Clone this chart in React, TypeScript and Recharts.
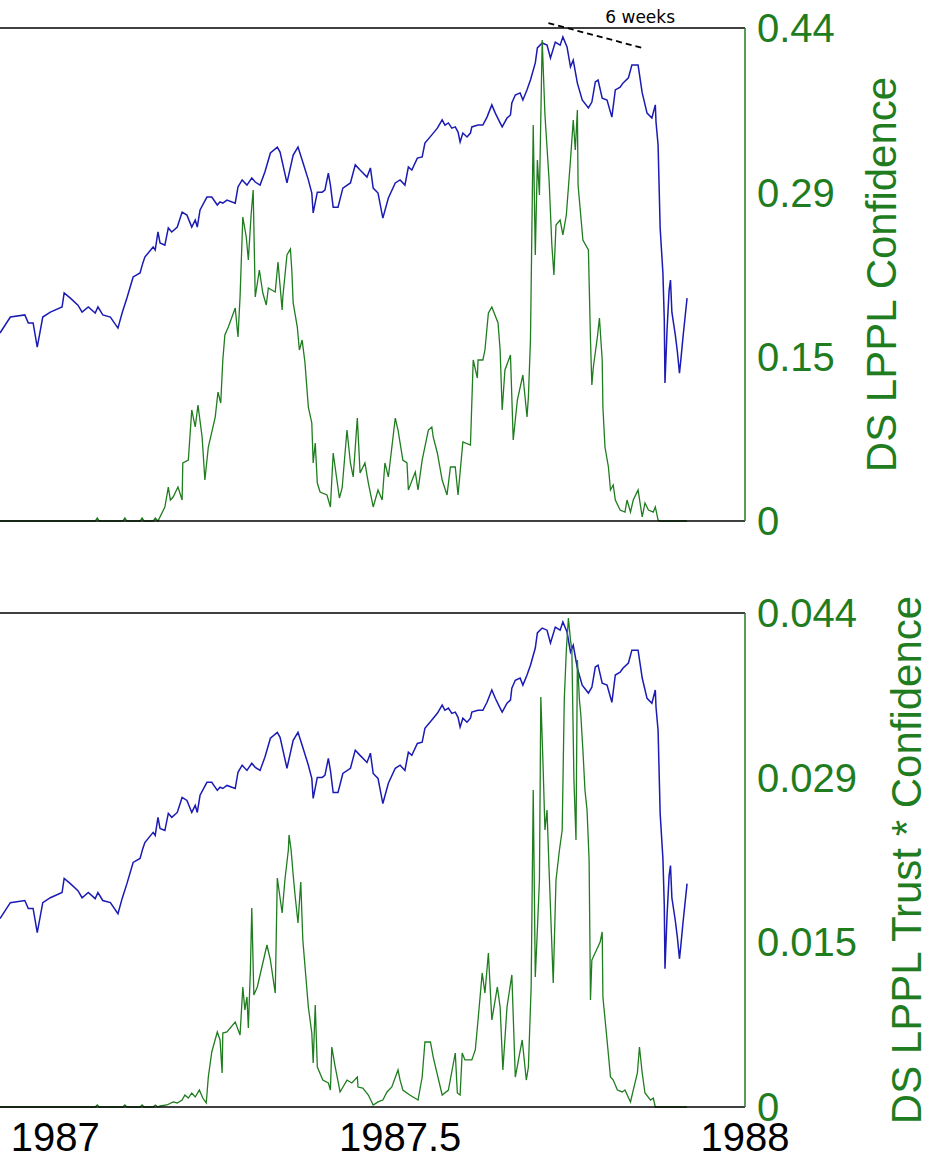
import React from 'react';
import { LineChart, Line, XAxis, YAxis, ReferenceLine, ReferenceDot } from 'recharts';

// S&P 500 (hidden left axis), [year, index]
const spx: [number, number][] = [
  [1986.920, 240.4], [1986.935, 245.6], [1986.956, 246.3], [1986.961, 243.7], [1986.968, 243.7], [1986.974, 235.8],
  [1986.982, 245.6], [1986.993, 247.2], [1987.010, 248.9], [1987.013, 253.5], [1987.022, 251.8], [1987.033, 249.5],
  [1987.039, 247.2], [1987.048, 248.9], [1987.058, 246.9], [1987.062, 248.9], [1987.069, 246.3], [1987.080, 245.6],
  [1987.091, 242.0], [1987.097, 246.9], [1987.104, 251.8], [1987.113, 258.7], [1987.123, 260.0], [1987.127, 263.2],
  [1987.130, 265.2], [1987.142, 268.5], [1987.145, 267.5], [1987.149, 273.4], [1987.152, 269.8], [1987.159, 269.1],
  [1987.164, 274.7], [1987.169, 273.4], [1987.177, 275.0], [1987.184, 279.9], [1987.191, 278.9], [1987.198, 275.0],
  [1987.203, 277.3], [1987.206, 275.0], [1987.210, 280.6], [1987.220, 284.8], [1987.227, 284.8], [1987.235, 282.2],
  [1987.239, 283.2], [1987.243, 282.8], [1987.249, 283.8], [1987.261, 282.8], [1987.265, 288.1], [1987.271, 290.4],
  [1987.278, 288.7], [1987.285, 291.0], [1987.290, 289.7], [1987.297, 288.7], [1987.304, 293.0], [1987.312, 299.2],
  [1987.322, 301.1], [1987.326, 299.5], [1987.336, 289.4], [1987.345, 298.5], [1987.352, 301.1], [1987.358, 296.9],
  [1987.367, 290.4], [1987.372, 286.1], [1987.374, 279.6], [1987.380, 286.4], [1987.387, 286.4], [1987.391, 287.1],
  [1987.396, 292.6], [1987.399, 288.7], [1987.403, 281.5], [1987.410, 281.5], [1987.417, 287.7], [1987.428, 289.4],
  [1987.435, 295.3], [1987.442, 293.6], [1987.452, 291.3], [1987.457, 294.3], [1987.461, 287.7], [1987.468, 286.1],
  [1987.475, 277.9], [1987.483, 284.5], [1987.493, 289.4], [1987.500, 290.4], [1987.507, 288.7], [1987.512, 294.6],
  [1987.517, 293.6], [1987.525, 297.5], [1987.532, 297.9], [1987.536, 302.4], [1987.546, 305.1], [1987.554, 307.3],
  [1987.561, 310.0], [1987.565, 308.3], [1987.570, 309.0], [1987.575, 307.3], [1987.580, 307.7], [1987.584, 306.0],
  [1987.587, 302.8], [1987.591, 305.7], [1987.597, 304.4], [1987.602, 305.7], [1987.604, 307.7], [1987.613, 308.3],
  [1987.620, 308.3], [1987.626, 310.9], [1987.633, 314.9], [1987.638, 312.2], [1987.645, 309.0], [1987.648, 307.7],
  [1987.655, 310.6], [1987.660, 311.6], [1987.662, 315.5], [1987.667, 318.1], [1987.674, 318.8], [1987.678, 316.5],
  [1987.684, 319.8], [1987.689, 323.0], [1987.696, 328.6], [1987.699, 333.5], [1987.706, 335.1], [1987.713, 334.4],
  [1987.718, 330.2], [1987.725, 335.4], [1987.732, 334.4], [1987.736, 337.1], [1987.742, 333.8], [1987.747, 327.3],
  [1987.751, 329.5], [1987.757, 322.0], [1987.764, 316.5], [1987.773, 313.9], [1987.778, 315.8], [1987.783, 322.4],
  [1987.787, 323.0], [1987.793, 317.1], [1987.800, 316.5], [1987.807, 310.9], [1987.812, 319.8], [1987.819, 320.7],
  [1987.823, 322.0], [1987.831, 323.7], [1987.836, 327.9], [1987.845, 327.9], [1987.851, 318.8], [1987.858, 312.2],
  [1987.865, 310.6], [1987.870, 314.9], [1987.871, 309.3], [1987.874, 301.8], [1987.877, 274.7], [1987.881, 260.0],
  [1987.883, 244.6], [1987.884, 224.1], [1987.887, 241.4], [1987.890, 254.4], [1987.892, 257.7], [1987.894, 247.2],
  [1987.899, 239.7], [1987.902, 234.2], [1987.905, 227.3], [1987.907, 231.6], [1987.910, 238.8], [1987.913, 245.3],
  [1987.916, 251.8],
];

// DS LPPL confidence
const confidence: [number, number][] = [
  [1986.920, 0], [1987.058, 0], [1987.061, 0.0027], [1987.064, 0], [1987.098, 0], [1987.101, 0.0027], [1987.104, 0],
  [1987.123, 0], [1987.126, 0.0027], [1987.129, 0], [1987.142, 0], [1987.145, 0.0027], [1987.149, 0],
  [1987.159, 0.0125], [1987.164, 0.0303], [1987.167, 0.0187], [1987.171, 0.0214], [1987.178, 0.0303], [1987.184, 0.0187],
  [1987.185, 0.0518], [1987.193, 0.0544], [1987.198, 0.0991], [1987.203, 0.0839], [1987.207, 0.1035], [1987.213, 0.0750],
  [1987.217, 0.0366], [1987.222, 0.0660], [1987.232, 0.0928], [1987.236, 0.1151], [1987.240, 0.1053], [1987.243, 0.1437],
  [1987.246, 0.1660], [1987.251, 0.1731], [1987.261, 0.1901], [1987.265, 0.1642], [1987.268, 0.1999], [1987.272, 0.2713],
  [1987.277, 0.2535], [1987.280, 0.2329], [1987.284, 0.2731], [1987.287, 0.2954], [1987.290, 0.1999], [1987.296, 0.2240],
  [1987.301, 0.2035], [1987.306, 0.1928], [1987.309, 0.2080], [1987.319, 0.2044], [1987.323, 0.2312], [1987.329, 0.1883],
  [1987.330, 0.1999], [1987.336, 0.2374], [1987.341, 0.2428], [1987.343, 0.2240], [1987.345, 0.1946], [1987.351, 0.1731],
  [1987.354, 0.1526], [1987.358, 0.1615], [1987.362, 0.1419], [1987.367, 0.1017], [1987.372, 0.0875], [1987.374, 0.0518],
  [1987.377, 0.0696], [1987.380, 0.0339], [1987.384, 0.0259], [1987.394, 0.0232], [1987.399, 0.0125], [1987.403, 0.0607],
  [1987.409, 0.0339], [1987.412, 0.0205], [1987.416, 0.0295], [1987.423, 0.0812], [1987.428, 0.0518], [1987.432, 0.0393],
  [1987.438, 0.0919], [1987.442, 0.0428], [1987.449, 0.0518], [1987.454, 0.0339], [1987.461, 0.0125], [1987.468, 0.0277],
  [1987.474, 0.0187], [1987.478, 0.0518], [1987.483, 0.0393], [1987.493, 0.0919], [1987.497, 0.0812], [1987.504, 0.0544],
  [1987.510, 0.0518], [1987.512, 0.0277], [1987.522, 0.0437], [1987.526, 0.0277], [1987.532, 0.0544], [1987.541, 0.0812],
  [1987.546, 0.0839], [1987.548, 0.0750], [1987.554, 0.0607], [1987.561, 0.0366], [1987.568, 0.0232], [1987.573, 0.0482],
  [1987.580, 0.0482], [1987.584, 0.0232], [1987.591, 0.0705], [1987.602, 0.0678], [1987.606, 0.1437], [1987.612, 0.1276],
  [1987.613, 0.1437], [1987.620, 0.1437], [1987.623, 0.1526], [1987.628, 0.1856], [1987.633, 0.1910], [1987.642, 0.1767],
  [1987.645, 0.1526], [1987.648, 0.0991], [1987.652, 0.1348], [1987.660, 0.1482], [1987.664, 0.0723], [1987.670, 0.1080],
  [1987.678, 0.1303], [1987.684, 0.0928], [1987.686, 0.1107], [1987.689, 0.1615], [1987.693, 0.3534], [1987.696, 0.2374],
  [1987.699, 0.3222], [1987.702, 0.2910], [1987.706, 0.4293], [1987.710, 0.3624], [1987.716, 0.3043], [1987.720, 0.2463],
  [1987.723, 0.2196], [1987.726, 0.2642], [1987.732, 0.2686], [1987.736, 0.2553], [1987.741, 0.2731], [1987.747, 0.3222],
  [1987.751, 0.3579], [1987.754, 0.3311], [1987.757, 0.3668], [1987.758, 0.2999], [1987.765, 0.2508], [1987.773, 0.2419],
  [1987.776, 0.1615], [1987.778, 0.1214], [1987.780, 0.1366], [1987.786, 0.1642], [1987.789, 0.1812], [1987.793, 0.1437],
  [1987.794, 0.1017], [1987.797, 0.0660], [1987.802, 0.0482], [1987.805, 0.0277], [1987.809, 0.0321], [1987.812, 0.0187],
  [1987.819, 0.0098], [1987.826, 0.0080], [1987.829, 0.0187], [1987.834, 0.0080], [1987.838, 0.0187], [1987.845, 0.0277],
  [1987.851, 0.0036], [1987.855, 0.0161], [1987.860, 0.0098], [1987.867, 0.0080], [1987.870, 0.0125], [1987.874, 0.0009],
  [1987.877, 0], [1987.916, 0],
];

// DS LPPL trust * confidence
const trustConfidence: [number, number][] = [
  [1986.920, 0], [1987.058, 0], [1987.061, 0.00018], [1987.064, 0], [1987.098, 0], [1987.101, 0.00018], [1987.104, 0],
  [1987.123, 0], [1987.126, 0.00018], [1987.129, 0], [1987.142, 0], [1987.145, 0.00018], [1987.149, 0],
  [1987.152, 0.00009], [1987.162, 0.00018], [1987.171, 0.00045], [1987.177, 0.00036], [1987.184, 0.00062], [1987.188, 0.00107],
  [1987.193, 0.00080], [1987.198, 0.00125], [1987.203, 0.00089], [1987.209, 0.00151], [1987.214, 0.00080], [1987.219, 0.00036],
  [1987.222, 0.00267], [1987.227, 0.00490], [1987.235, 0.00668], [1987.239, 0.00597], [1987.242, 0.00303], [1987.243, 0.00659],
  [1987.249, 0.00668], [1987.261, 0.00757], [1987.268, 0.00641], [1987.272, 0.01069], [1987.275, 0.00864], [1987.278, 0.00980],
  [1987.280, 0.00704], [1987.283, 0.01220], [1987.285, 0.01773], [1987.288, 0.00998], [1987.293, 0.01069], [1987.307, 0.01443],
  [1987.312, 0.01309], [1987.319, 0.01015], [1987.322, 0.02040], [1987.329, 0.01728], [1987.333, 0.02022], [1987.338, 0.02289],
  [1987.339, 0.02423], [1987.342, 0.02289], [1987.345, 0.02066], [1987.348, 0.01870], [1987.352, 0.01639], [1987.356, 0.02004],
  [1987.359, 0.01487], [1987.367, 0.00891], [1987.372, 0.00659], [1987.374, 0.00392], [1987.377, 0.00909], [1987.380, 0.00356],
  [1987.388, 0.00240], [1987.396, 0.00214], [1987.399, 0.00151], [1987.401, 0.00534], [1987.406, 0.00356], [1987.413, 0.00134],
  [1987.423, 0.00240], [1987.430, 0.00214], [1987.438, 0.00267], [1987.439, 0.00178], [1987.446, 0.00169], [1987.454, 0.00107],
  [1987.461, 0.00018], [1987.468, 0.00045], [1987.475, 0.00062], [1987.481, 0.00134], [1987.488, 0.00178], [1987.497, 0.00330],
  [1987.500, 0.00240], [1987.504, 0.00151], [1987.514, 0.00107], [1987.526, 0.00062], [1987.532, 0.00267], [1987.536, 0.00579],
  [1987.544, 0.00579], [1987.548, 0.00445], [1987.561, 0.00107], [1987.570, 0.00151], [1987.580, 0.00481], [1987.583, 0.00125],
  [1987.587, 0.00107], [1987.590, 0.00481], [1987.594, 0.00419], [1987.604, 0.00419], [1987.609, 0.00508], [1987.613, 0.00775],
  [1987.619, 0.01194], [1987.623, 0.01015], [1987.628, 0.01372], [1987.633, 0.00775], [1987.641, 0.01069], [1987.645, 0.00891],
  [1987.649, 0.00330], [1987.655, 0.00891], [1987.662, 0.01176], [1987.667, 0.00267], [1987.677, 0.00597], [1987.683, 0.00240],
  [1987.686, 0.00356], [1987.690, 0.01069], [1987.693, 0.02824], [1987.696, 0.01158], [1987.699, 0.01577], [1987.702, 0.02022],
  [1987.704, 0.03652], [1987.707, 0.03091], [1987.710, 0.02467], [1987.713, 0.02645], [1987.716, 0.02111], [1987.722, 0.01104],
  [1987.726, 0.02022], [1987.731, 0.02289], [1987.735, 0.02467], [1987.738, 0.03625], [1987.741, 0.04070], [1987.744, 0.04355],
  [1987.747, 0.04160], [1987.749, 0.04070], [1987.752, 0.02913], [1987.755, 0.02378], [1987.757, 0.03981], [1987.760, 0.03625],
  [1987.762, 0.03492], [1987.765, 0.03180], [1987.768, 0.02824], [1987.771, 0.02645], [1987.774, 0.02200], [1987.776, 0.00953],
  [1987.778, 0.01309], [1987.790, 0.01470], [1987.793, 0.01559], [1987.794, 0.00980], [1987.800, 0.00597], [1987.805, 0.00267],
  [1987.809, 0.00240], [1987.815, 0.00151], [1987.822, 0.00134], [1987.826, 0.00151], [1987.834, 0.00045], [1987.838, 0.00151],
  [1987.844, 0.00303], [1987.847, 0.00534], [1987.851, 0.00303], [1987.855, 0.00125], [1987.863, 0.00062], [1987.867, 0.00080],
  [1987.870, 0], [1987.916, 0],
];

const yearTicks = [1987, 1987.5, 1988];
const confTicks = [0, 0.1467, 0.2933, 0.44];
const trustTicks = [0, 0.01467, 0.02933, 0.044];
// "6 weeks" dashed marker, in [year, index]
const weeksLine: [number, number][] = [[1987.715, 341.6], [1987.851, 333.5]];
const weeksText: [number, number] = [1987.848, 343.6];

const FONT = '"Liberation Sans", Arial, Helvetica, sans-serif';
const GREEN = '#1f7d1f';
const BLUE = '#1a1ab4';

const toPts = (rows: [number, number][]) => rows.map(([t, v]) => ({ t, v }));

const AxisTitle = (props: any) => {
  const vb = props.viewBox ?? { x: 745, y: 0, width: 0, height: 0 };
  const x = vb.x + props.shift;
  const y = vb.y + vb.height / 2;
  return (
    <text x={x} y={y} transform={`rotate(-90 ${x} ${y})`} textAnchor="middle"
      fontSize={42} fontFamily={FONT} fill={GREEN}>
      {props.text}
    </text>
  );
};

interface PanelProps {
  conf: [number, number][];
  ticks: number[];
  digits: number;
  title: string;
  titleShift: number;
  height: number;
  top: number;
  plotH: number;
  showYears: boolean;
  annotate?: boolean;
}

const Panel: React.FC<PanelProps> = ({ conf, ticks, digits, title, titleShift, height, top, plotH, showYears, annotate }) => (
  <LineChart width={932} height={height} margin={{ top, right: 0, bottom: 0, left: 0 }}>
    <XAxis
      type="number"
      dataKey="t"
      domain={[1986.92, 1988]}
      ticks={yearTicks}
      allowDataOverflow
      height={height - top - plotH}
      axisLine={{ stroke: '#000', strokeWidth: 1.5 }}
      tickLine={false}
      tickSize={6}
      tickMargin={10}
      tick={showYears ? { fontSize: 40, fill: '#000', fontFamily: FONT } : false}
      tickFormatter={(v: number) => String(v)}
    />
    <YAxis yAxisId="left" hide domain={[179, 340]} />
    <YAxis
      yAxisId="right"
      orientation="right"
      width={187}
      domain={[0, ticks[3]]}
      ticks={ticks}
      interval={0}
      axisLine={{ stroke: GREEN, strokeWidth: 1.5 }}
      tickLine={false}
      tickSize={6}
      tickMargin={6}
      tick={{ fontSize: 40, fill: GREEN, fontFamily: FONT }}
      tickFormatter={(v: number) => (v === 0 ? '0' : v.toFixed(digits))}
      label={<AxisTitle text={title} shift={titleShift} />}
    />
    <ReferenceLine yAxisId="right" y={ticks[3]} stroke="#000" strokeWidth={1.5} />
    <Line
      yAxisId="left"
      data={toPts(spx)}
      dataKey="v"
      type="linear"
      stroke={BLUE}
      strokeWidth={1.5}
      dot={false}
      isAnimationActive={false}
    />
    <Line
      yAxisId="right"
      data={toPts(conf)}
      dataKey="v"
      type="linear"
      stroke={GREEN}
      strokeWidth={1.3}
      dot={false}
      isAnimationActive={false}
    />
    {annotate && (
      <ReferenceLine
        yAxisId="left"
        segment={[{ x: weeksLine[0][0], y: weeksLine[0][1] }, { x: weeksLine[1][0], y: weeksLine[1][1] }]}
        stroke="#000"
        strokeWidth={1.8}
        strokeDasharray="6 4"
        ifOverflow="visible"
      />
    )}
    {annotate && (
      <ReferenceDot
        yAxisId="left"
        x={weeksText[0]}
        y={weeksText[1]}
        r={0}
        stroke="none"
        fill="none"
        ifOverflow="visible"
        label={{ value: '6 weeks', position: 'center', fontSize: 17, fill: '#000', fontFamily: '"DejaVu Sans", Verdana, sans-serif' }}
      />
    )}
  </LineChart>
);

export default function App() {
  return (
    <div style={{ position: 'absolute', left: 0, top: 0, width: 932, height: 1172, background: '#fff' }}>
      <Panel conf={confidence} ticks={confTicks} digits={2} title="DS LPPL Confidence" titleShift={151}
        height={560} top={28} plotH={493} showYears={false} annotate />
      <Panel conf={trustConfidence} ticks={trustTicks} digits={3} title="DS LPPL Trust * Confidence" titleShift={176}
        height={607} top={53} plotH={494} showYears />
    </div>
  );
}
